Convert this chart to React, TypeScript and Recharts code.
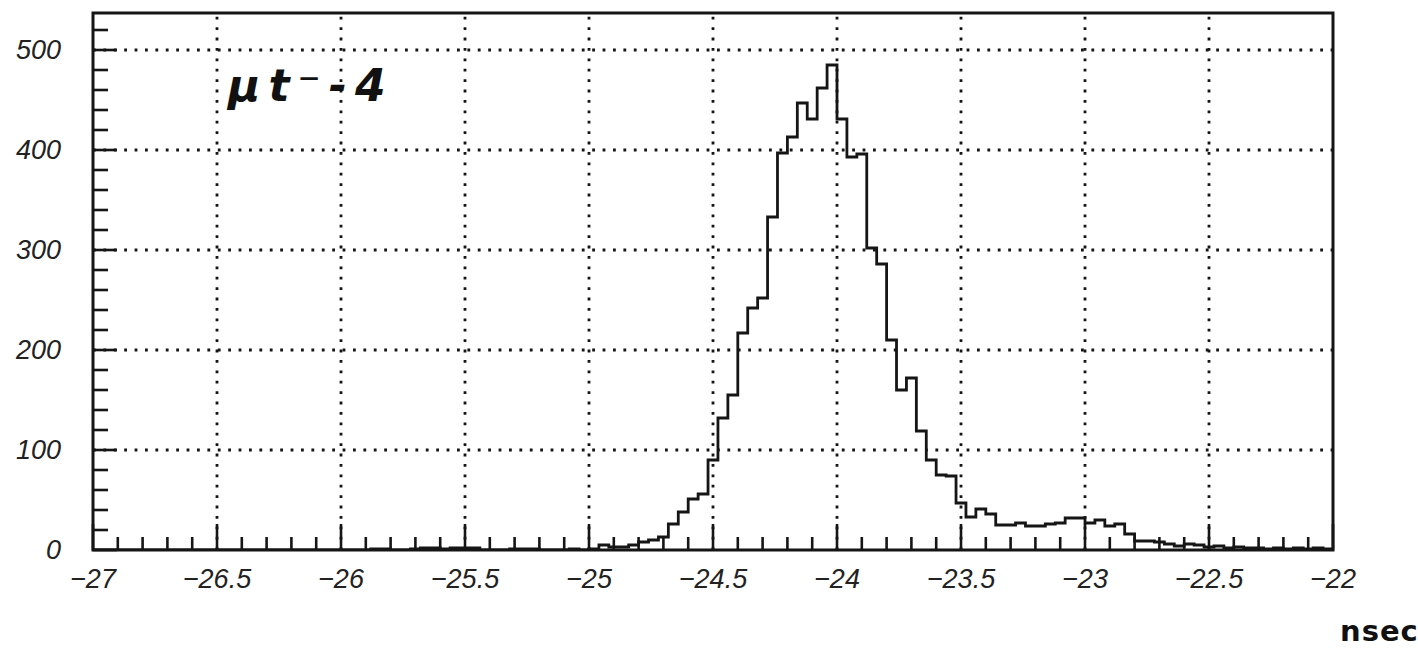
import { LineChart, Line, XAxis, YAxis, ReferenceLine, ReferenceArea } from "recharts";

// histogram binning: 125 bins of 0.04 ns from -27 to -22
const BIN_START = -27;
const BIN_WIDTH = 0.04;

// entries per bin, 25 bins per row
const counts = [
  0, 0, 0, 0, 0, 0, 0, 0, 0, 0, 0, 0, 0, 0, 0, 0, 0, 0, 0, 0, 0, 0, 0, 0, 0,
  0, 0, 0, 1, 1, 0, 0, 1, 2, 2, 1, 2, 2, 2, 0, 0, 0, 1, 1, 1, 0, 0, 0, 1, 0,
  1, 5, 3, 3, 5, 8, 10, 13, 26, 38, 51, 56, 90, 132, 155, 217, 242, 252, 333, 397, 413, 447, 431, 462, 485,
  431, 393, 396, 302, 286, 210, 160, 172, 119, 90, 75, 74, 47, 33, 41, 36, 25, 25, 27, 24, 24, 26, 27, 32, 32,
  27, 30, 24, 26, 16, 9, 9, 8, 6, 4, 6, 5, 3, 4, 2, 3, 2, 2, 1, 2, 1, 2, 1, 2, 1,
];

const xMajorTicks = [-27, -26.5, -26, -25.5, -25, -24.5, -24, -23.5, -23, -22.5, -22];
const yMajorTicks = [0, 100, 200, 300, 400, 500];
const xGrid = [-26.5, -26, -25.5, -25, -24.5, -24, -23.5, -23, -22.5];
const yGrid = [100, 200, 300, 400, 500];

const X_MIN = -27;
const X_MAX = -22;
const Y_MAX = 537;

// step data: one point per bin low edge, plus the closing edge
const data = counts.map((c, i) => ({ x: +(BIN_START + i * BIN_WIDTH).toFixed(2), count: c }));
data.push({ x: X_MAX, count: counts[counts.length - 1] });

// minor ticks every 0.1 ns and every 20 entries
const xTicks: number[] = [];
for (let i = 0; i <= 50; i++) xTicks.push(+(X_MIN + i * 0.1).toFixed(1));
const yTicks: number[] = [];
for (let v = 0; v <= 520; v += 20) yTicks.push(v);

const INK = "#151515";
const LABEL_FONT = "'Liberation Sans', Arial, sans-serif";

const fmt = (v: number) => (v < 0 ? "\u2212" + Math.abs(v) : String(v));

const XTick = (props: any) => {
  const { x, y, payload } = props;
  const v = payload.value;
  const major = xMajorTicks.some((t) => Math.abs(t - v) < 1e-6);
  return (
    <g>
      <line x1={x} x2={x} y1={y} y2={y - (major ? 26 : 13)} stroke={INK} strokeWidth={2.6} />
      {major && (
        <text x={x} y={y + 38} textAnchor="middle" fontFamily={LABEL_FONT} fontStyle="italic" fontSize={27} fill="#222">
          {fmt(v)}
        </text>
      )}
    </g>
  );
};

const YTick = (props: any) => {
  const { x, y, payload } = props;
  const v = payload.value;
  const major = yMajorTicks.includes(v);
  return (
    <g>
      <line x1={x} x2={x + (major ? 24 : 15)} y1={y} y2={y} stroke={INK} strokeWidth={2.6} />
      {major && (
        <text x={x - 32} y={y + 9} textAnchor="end" fontFamily={LABEL_FONT} fontStyle="italic" fontSize={27} fill="#222">
          {v}
        </text>
      )}
    </g>
  );
};

export default function App() {
  return (
    <div style={{ position: "absolute", left: 0, top: 0, width: 1418, height: 648, background: "#fff" }}>
      <LineChart width={1418} height={648} data={data} margin={{ top: 13, right: 85, bottom: 58, left: 0 }}>
        <XAxis
          dataKey="x"
          type="number"
          domain={[X_MIN, X_MAX]}
          ticks={xTicks}
          interval={0}
          tick={<XTick />}
          tickLine={false}
          tickSize={0}
          tickMargin={0}
          axisLine={false}
          height={40}
          allowDataOverflow
        />
        <YAxis
          type="number"
          domain={[0, Y_MAX]}
          ticks={yTicks}
          interval={0}
          tick={<YTick />}
          tickLine={false}
          tickSize={0}
          tickMargin={0}
          axisLine={false}
          width={93}
          allowDataOverflow
        />
        {xGrid.map((v) => (
          <ReferenceLine key={`gx${v}`} x={v} stroke={INK} strokeWidth={2.8} strokeDasharray="2.8 7.6" />
        ))}
        {yGrid.map((v) => (
          <ReferenceLine key={`gy${v}`} y={v} stroke={INK} strokeWidth={2.8} strokeDasharray="2.8 7.6" />
        ))}
        <Line
          type="stepAfter"
          dataKey="count"
          stroke={INK}
          strokeWidth={2.8}
          dot={false}
          activeDot={false}
          isAnimationActive={false}
        />
        <ReferenceArea x1={X_MIN} x2={X_MAX} y1={0} y2={Y_MAX} fill="none" stroke={INK} strokeWidth={3} ifOverflow="visible" />
      </LineChart>
      <div
        style={{
          position: "absolute",
          left: 228,
          top: 60,
          fontFamily: "'DejaVu Sans', sans-serif",
          fontStyle: "italic",
          fontWeight: "bold",
          fontSize: 44,
          color: "#111",
          letterSpacing: 8,
        }}
      >
        μt⁻-4
      </div>
      <div
        style={{
          position: "absolute",
          left: 1340,
          top: 614,
          fontFamily: "'DejaVu Sans', sans-serif",
          fontWeight: "bold",
          fontSize: 29,
          color: "#111",
          letterSpacing: 1,
        }}
      >
        nsec
      </div>
    </div>
  );
}
